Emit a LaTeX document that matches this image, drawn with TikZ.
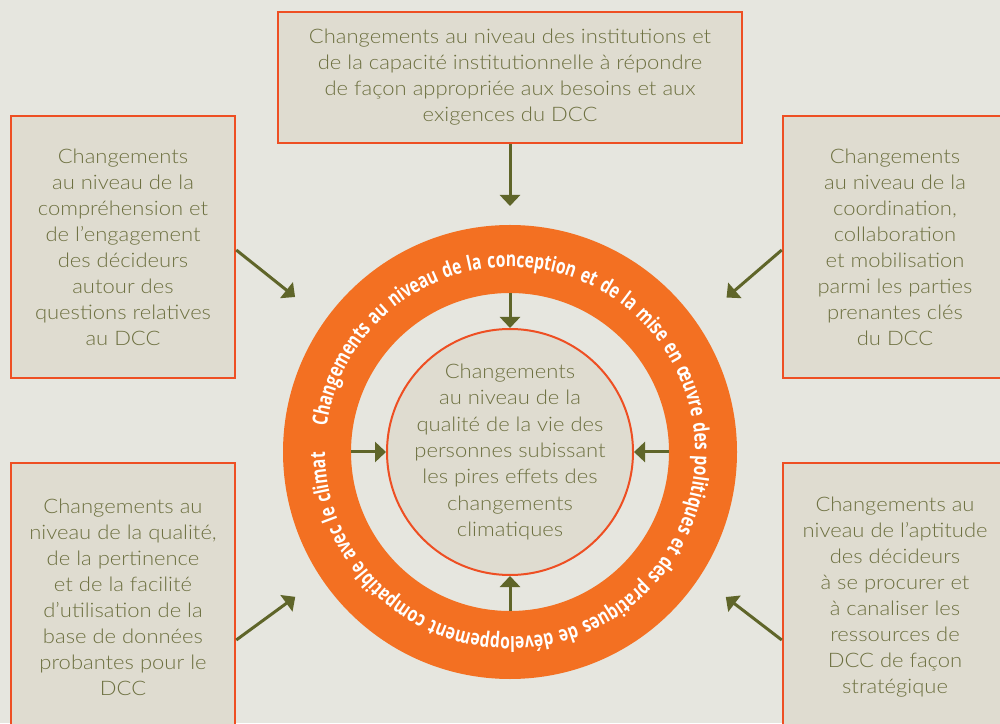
\documentclass[tikz,border=0pt]{standalone}
\usepackage{fontspec}
\setmainfont{Lato Light}[FakeStretch=1.1]
\newfontfamily\ringfont[FakeStretch=0.75]{Open Sans}
\usetikzlibrary{arrows.meta, decorations.text}
\definecolor{bgcol}{HTML}{E6E6DF}
\definecolor{boxfill}{HTML}{DFDCD0}
\definecolor{boxline}{HTML}{EE4F23}
\definecolor{ringcol}{HTML}{F37022}
\definecolor{textcol}{HTML}{6D7040}
\definecolor{arrowcol}{HTML}{5F6529}

\tikzset{
  change/.style={rectangle, draw=boxline, fill=boxfill, line width=2.5pt, text=textcol,
    align=center, font=\fontsize{20}{26}\selectfont, inner sep=0pt},
  feed/.style={draw=arrowcol, line width=3pt, -{Triangle[length=11pt, width=20pt]}},
}

\begin{document}
\begin{tikzpicture}[x=1pt, y=1pt]
            \clip (0,0) rectangle (1000,723);
            \fill[bgcol] (0,0) rectangle (1000,723);
            \coordinate (c) at (510,271);

            \node[change, minimum width=464, minimum height=131] (inst) at (510,645.5)
              {Changements au niveau des institutions et\\ de la capacité institutionnelle à répondre\\
               de façon appropriée aux besoins et aux\\ exigences du DCC};
            \node[change, minimum width=224, minimum height=262] (comp) at (123,476)
              {Changements\\ au niveau de la\\ compréhension et\\ de l’engagement\\ des décideurs\\
               autour des\\ questions relatives\\ au DCC};
            \node[change, minimum width=224, minimum height=262] (coord) at (895,476)
              {Changements\\ au niveau de la\\ coordination,\\ collaboration\\ et mobilisation\\
               parmi les parties\\ prenantes clés\\ du DCC};
            \node[change, minimum width=224, minimum height=268] (base) at (123,126)
              {Changements au\\ niveau de la qualité,\\ de la pertinence\\ et de la facilité\\
               d’utilisation de la\\ base de données\\ probantes pour le\\ DCC};
            \node[change, minimum width=224, minimum height=268] (apt) at (895,126)
              {Changements au\\ niveau de l’aptitude\\ des décideurs\\ à se procurer et\\
               à canaliser les\\ ressources de\\ DCC de façon\\ stratégique};

            % the ring and its text
            \node[circle, draw=ringcol, line width=68pt, minimum size=386] (ring) at (c) {};
            \path[decorate, decoration={text along path, text align={fit to path stretching spaces},
              text={|\ringfont\bfseries\fontsize{21}{25}\selectfont\color{white}|Changements au niveau de la conception et de la mise en œuvre des politiques et des pratiques de développement compatible avec le climat}}]
              ([shift={(172:185)}]c) arc[start angle=172, end angle=-180, radius=185];

            \node[circle, draw=boxline, fill=boxfill, line width=2pt, minimum size=246] (life) at (c) {};
            \node[text=textcol, align=center, font=\fontsize{20}{26.4}\selectfont] at (life)
              {Changements\\ au niveau de la\\ qualité de la vie des\\ personnes subissant\\
               les pires effets des\\ changements\\ climatiques};

            \coordinate (t-n) at ([shift={(90:246)}]c);
            \coordinate (t-nw) at ([shift={(144.2:265)}]c);
            \coordinate (t-ne) at ([shift={(35.5:266)}]c);
            \coordinate (t-sw) at ([shift={(214:259)}]c);
            \coordinate (t-se) at ([shift={(-33.9:260)}]c);

            \draw[feed] (inst) -- (t-n);
            \draw[feed] ([yshift=-3pt]comp.east) -- (t-nw);
            \draw[feed] ([yshift=-3pt]coord.west) -- (t-ne);
            \draw[feed] ([yshift=-43pt]base.east) -- (t-sw);
            \draw[feed] ([yshift=-43pt]apt.west) -- (t-se);

            \foreach \a/\s in {90/north, 0/east, 180/west, -90/south}
              \draw[feed] ([shift={(\a:159)}]c) -- (life.\s);
        \end{tikzpicture}
\end{document}
